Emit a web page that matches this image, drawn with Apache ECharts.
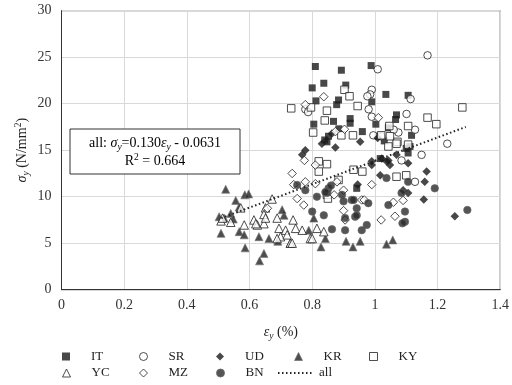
<!DOCTYPE html>
<html><head><meta charset="utf-8">
<script src="https://cdn.jsdelivr.net/npm/echarts@6/dist/echarts.min.js"></script>
<style>html,body{margin:0;padding:0;background:#fff}#c{width:512px;height:385px}</style>
</head><body><div id="c"></div>
<script>
const xTicks = [0, 1.4, 0.2];
const yTicks = [0, 30, 5];
const IT = [[0.81,24.0],[0.893,23.6],[0.988,24.1],[0.837,22.2],[0.80,21.7],[0.907,22.0],[1.035,21.0],[1.106,20.9],[0.812,20.3],[0.884,20.4],[0.878,19.9],[0.99,20.2],[0.868,18.1],[0.921,18.4],[0.921,17.9],[1.003,17.8],[1.069,18.8],[1.066,18.3],[0.805,17.8],[1.043,17.4],[0.852,16.5],[0.84,16.1],[1.117,16.6],[1.011,16.5],[1.112,15.4],[0.847,15.9],[1.017,14.1],[1.106,14.7],[1.10,15.2],[0.942,10.9],[0.96,17.0],[1.03,16.0],[0.885,17.3]];
const SR = [[1.168,25.2],[1.009,23.7],[0.99,21.5],[0.985,21.0],[1.114,20.5],[0.976,20.8],[0.98,19.4],[0.778,19.4],[1.101,18.9],[1.128,17.2],[1.075,16.9],[1.02,16.5],[1.231,15.7],[1.149,14.5],[1.128,11.6],[1.085,13.9],[0.787,19.1],[1.06,17.2],[0.99,18.6],[0.995,16.6]];
const UD = [[0.778,15.0],[0.831,15.7],[0.874,15.3],[0.953,15.9],[0.863,16.8],[1.009,16.3],[0.99,13.4],[1.017,12.3],[1.043,13.9],[1.069,14.5],[1.106,13.6],[1.165,12.7],[1.159,11.6],[1.09,10.7],[1.106,10.4],[1.156,9.7],[1.255,7.9],[1.022,14.1],[1.048,13.4],[0.99,13.8],[1.037,13.8],[0.768,14.5],[0.945,11.3]];
const KR = [[0.524,10.8],[0.556,9.6],[0.585,10.2],[0.597,10.3],[0.503,7.85],[0.519,7.7],[0.54,8.2],[0.548,7.6],[0.509,6.06],[0.567,6.24],[0.583,5.9],[0.63,5.7],[0.662,5.5],[0.71,8.0],[0.704,8.6],[0.586,4.5],[0.646,3.9],[0.632,3.1],[0.73,5.0],[0.789,6.4],[0.805,7.7],[0.828,4.6],[0.842,5.5],[0.908,5.2],[0.93,4.6],[0.953,5.2],[1.037,4.9],[1.057,5.35],[0.567,8.9],[0.69,5.2]];
const KY = [[0.733,19.5],[0.796,19.6],[0.903,21.5],[0.919,20.8],[0.945,19.75],[0.847,19.25],[0.84,18.2],[0.803,16.9],[0.893,16.6],[0.93,16.6],[1.02,16.6],[1.046,17.6],[1.048,16.5],[1.072,15.9],[1.106,17.6],[1.168,18.5],[1.196,17.8],[1.279,19.6],[1.043,15.4],[0.821,13.8],[0.847,13.5],[0.821,12.7],[0.932,12.9],[0.96,12.7],[0.884,11.8],[0.847,10.2],[0.85,9.8],[1.069,12.15],[1.10,12.3],[1.069,15.7],[1.106,15.6]];
const YC = [[0.672,9.75],[0.651,8.8],[0.572,8.8],[0.509,7.4],[0.54,7.25],[0.514,7.7],[0.614,7.5],[0.646,8.1],[0.646,7.1],[0.625,6.96],[0.583,6.96],[0.62,7.1],[0.651,7.7],[0.688,7.7],[0.739,7.5],[0.694,6.6],[0.715,6.4],[0.747,6.6],[0.768,6.4],[0.794,5.5],[0.815,6.6],[0.73,5.0],[0.699,5.7],[0.72,5.9],[0.837,6.24],[0.80,5.5],[0.688,5.5],[0.736,5.0]];
const MZ = [[0.837,20.75],[0.778,19.9],[0.874,17.0],[0.903,17.25],[1.011,18.5],[0.775,13.9],[0.736,12.5],[0.81,13.4],[0.741,11.3],[0.778,11.6],[0.81,11.4],[0.879,11.6],[0.90,10.7],[0.958,9.65],[0.99,11.3],[0.752,9.8],[0.773,9.1],[0.657,8.75],[0.90,8.5],[0.905,7.5],[1.02,7.5],[1.064,7.9],[1.059,9.4],[1.09,9.6],[0.966,9.65],[0.87,10.2]];
const BN = [[0.752,11.26],[0.778,10.7],[0.815,10.0],[0.852,10.9],[0.847,10.4],[0.895,10.2],[0.926,9.65],[0.942,8.75],[0.979,9.3],[0.80,8.4],[0.837,8.0],[0.905,7.7],[0.937,7.85],[0.974,6.96],[0.958,6.4],[0.905,6.4],[0.863,6.5],[1.037,12.0],[1.085,10.4],[1.043,9.1],[1.096,8.4],[1.096,7.3],[1.191,10.9],[1.295,8.57],[1.106,11.6],[0.842,10.5],[0.90,9.5],[0.932,9.65],[0.942,8.0],[1.088,7.14],[0.86,11.2]];
const ALL = [[0.51,7.7],[1.29,17.5]];

const FF = 'Liberation Serif';
const C = '#1a1a1a';
const chart = echarts.init(document.getElementById('c'), null, {renderer:'canvas'});
const filled = {color:C};
const open = {color:'#fff', borderColor:'#222', borderWidth:1};
function sc(name, data, symbol, size, style){
  return {name, type:'scatter', data, symbol, symbolSize:size, itemStyle:style, emphasis:{disabled:true}};
}
const seriesList = [
  sc('IT', IT, 'rect', 7, filled),
  sc('SR', SR, 'circle', 7.5, open),
  sc('UD', UD, 'diamond', 8.5, filled),
  sc('KR', KR, 'triangle', 8, {color:'#222', borderColor:'#777', borderWidth:0.8}),
  sc('KY', KY, 'rect', 7.5, open),
  sc('YC', YC, 'triangle', 8.5, open),
  sc('MZ', MZ, 'diamond', 8.5, open),
  sc('BN', BN, 'circle', 7.5, {color:'#2a2a2a', borderColor:'#666', borderWidth:0.8}),
  {name:'all', type:'line', data:ALL, symbol:'none', itemStyle:{color:'#222'}, lineStyle:{color:'#222', width:2, type:[1.5,2.5]}, z:5}
];
const rowY = [350, 366.5];
const iconX = [66, 143, 220, 298, 373];
function lg(name, left, top, w){
  const line = w !== 8;
  return {data:[name], left, top, padding:0, itemWidth:w, itemHeight:8,
    itemStyle: line ? {opacity:0} : {borderWidth:1},
    textStyle:{fontFamily:FF, fontSize:13, color:'#222', padding:[0,0,0, line?0:16]}, selectedMode:false};
}
const legends = [
  lg('IT', iconX[0]-4, rowY[0], 8), lg('SR', iconX[1]-4, rowY[0], 8), lg('UD', iconX[2]-4, rowY[0], 8),
  lg('KR', iconX[3]-4, rowY[0], 8), lg('KY', iconX[4]-4, rowY[0], 8),
  lg('YC', iconX[0]-4, rowY[1], 8), lg('MZ', iconX[1]-4, rowY[1], 8), lg('BN', iconX[2]-4, rowY[1], 8),
  lg('all', 277, rowY[1], 36)
];
const rich = {
  n:{fontFamily:FF, fontSize:14, color:'#222', lineHeight:18},
  i:{fontFamily:FF, fontSize:14, fontStyle:'italic', color:'#222', lineHeight:18},
  s:{fontFamily:FF, fontSize:9.5, fontStyle:'italic', color:'#222', lineHeight:10, padding:[8,0,0,0]},
  p:{fontFamily:FF, fontSize:9.5, color:'#222', lineHeight:10, padding:[0,0,8,0]}
};
const option = {
  animation:false,
  backgroundColor:'#fff',
  grid:{left:61.5, right:9.3, top:10.7, bottom:95.3, show:true, borderColor:'#333', borderWidth:1},
  xAxis:{type:'value', min:xTicks[0], max:xTicks[1], interval:xTicks[2],
    axisLine:{show:true, onZero:false, lineStyle:{color:'#333'}}, axisTick:{show:false},
    splitLine:{show:true, lineStyle:{color:'#d9d9d9', width:1}},
    axisLabel:{fontFamily:FF, fontSize:14, color:'#333', margin:9},
    name:'{i|ε}{s|y}{n| (%)}', nameLocation:'middle', nameGap:34, nameMoveOverlap:false, nameTextStyle:{rich}},
  yAxis:{type:'value', min:yTicks[0], max:yTicks[1], interval:yTicks[2],
    axisLine:{show:true, lineStyle:{color:'#333'}}, axisTick:{show:false},
    splitLine:{show:true, lineStyle:{color:'#d9d9d9', width:1}},
    axisLabel:{fontFamily:FF, fontSize:14, color:'#333', margin:10},
    name:'{i|σ}{s|y}{n| (N/mm}{p|2}{n|)}', nameLocation:'middle', nameGap:30, nameMoveOverlap:false, nameTextStyle:{rich}},
  legend:legends,
  series:seriesList,
  graphic:[
    {type:'rect', shape:{x:70, y:129, width:170, height:45}, style:{fill:'#fff', stroke:'#333', lineWidth:1}, z:100},
    {type:'text', x:155, y:152, z:101, style:{
      text:'{n|all: }{i|σ}{s|y}{n|=0.130}{i|ε}{s|y}{n| - 0.0631}\n{n|R}{p|2}{n| = 0.664}',
      rich, align:'center', verticalAlign:'middle'}}
  ]
};
chart.setOption(option);
</script></body></html>
